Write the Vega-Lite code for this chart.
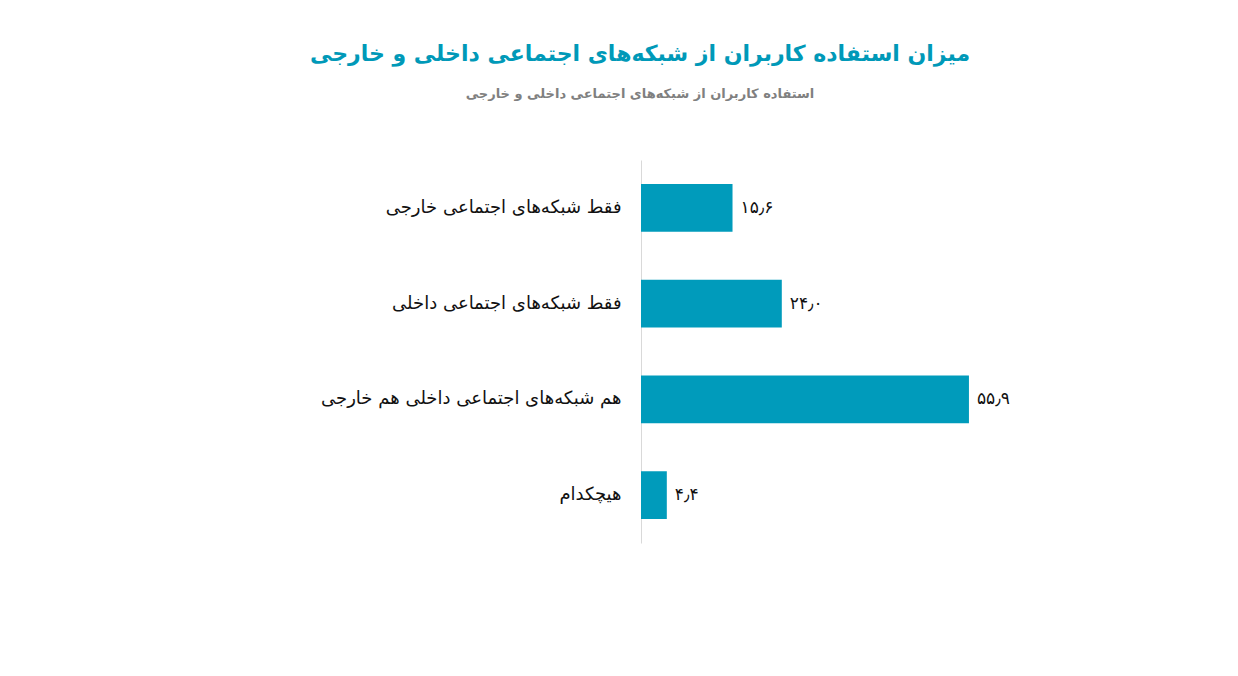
{
  "$schema": "https://vega.github.io/schema/vega-lite/v6.json",
  "autosize": {"type": "none"},
  "width": 352,
  "height": 383,
  "padding": {"left": 641, "top": 160, "right": 245, "bottom": 133},
  "background": "white",
  "config": {"view": {"stroke": null}, "font": "DejaVu Sans"},
  "title": {
    "text": "میزان استفاده کاربران از شبکه‌های اجتماعی داخلی و خارجی",
    "subtitle": "استفاده کاربران از شبکه‌های اجتماعی داخلی و خارجی",
    "anchor": "middle",
    "frame": "group",
    "dx": -177,
    "offset": 58,
    "font": "DejaVu Sans",
    "fontSize": 22,
    "fontWeight": "bold",
    "color": "#0099b8",
    "subtitleFont": "DejaVu Sans",
    "subtitleFontSize": 13,
    "subtitleFontWeight": "bold",
    "subtitleColor": "#808080",
    "subtitlePadding": 22
  },
  "data": {
    "values": [
      {"category": "فقط شبکه‌های اجتماعی خارجی", "value": 15.6, "label": "۱۵٫۶"},
      {"category": "فقط شبکه‌های اجتماعی داخلی", "value": 24.0, "label": "۲۴٫۰"},
      {"category": "هم شبکه‌های اجتماعی داخلی هم خارجی", "value": 55.9, "label": "۵۵٫۹"},
      {"category": "هیچکدام", "value": 4.4, "label": "۴٫۴"}
    ]
  },
  "encoding": {
    "y": {
      "field": "category",
      "type": "nominal",
      "sort": null,
      "scale": {"paddingInner": 0.5, "paddingOuter": 0.25},
      "axis": {
        "title": null,
        "ticks": false,
        "domain": true,
        "domainColor": "#d9d9d9",
        "domainWidth": 1,
        "labelPadding": 20,
        "labelFontSize": 18,
        "labelColor": "#111111",
        "labelFont": "DejaVu Sans",
        "labelLimit": 400
      }
    },
    "x": {
      "field": "value",
      "type": "quantitative",
      "scale": {"domain": [0, 60], "nice": false},
      "axis": null
    }
  },
  "layer": [
    {"mark": {"type": "bar", "color": "#009bbb"}},
    {
      "mark": {"type": "text", "align": "left", "baseline": "middle", "dx": 8, "fontSize": 17, "color": "#111111", "font": "DejaVu Sans"},
      "encoding": {"text": {"field": "label"}}
    }
  ]
}
